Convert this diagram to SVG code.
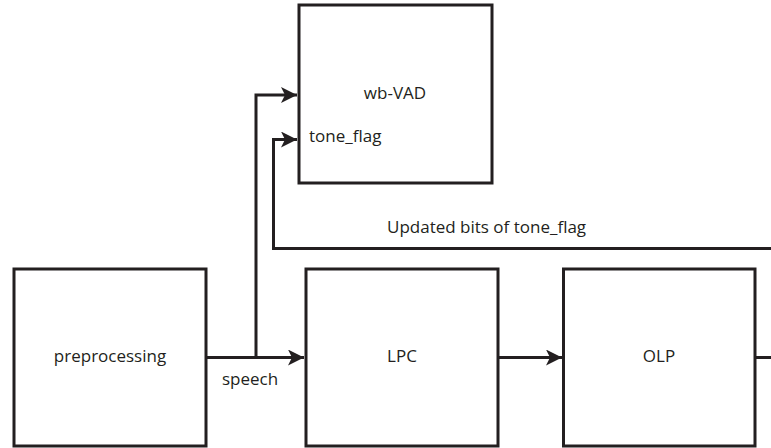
<svg xmlns="http://www.w3.org/2000/svg" width="771" height="448" viewBox="0 0 771 448">
<defs>
<style>
.box{fill:#fff;stroke:#231f20;stroke-width:3}
.ln{fill:none;stroke:#231f20;stroke-width:3}
text{font-family:"Open Sans","Liberation Sans",sans-serif;font-size:17px;fill:#231f20}
.c{text-anchor:middle}
</style>
<marker id="ah" markerUnits="userSpaceOnUse" markerWidth="18" markerHeight="16" refX="16" refY="8" orient="auto">
<path d="M0,0 L16,8 L0,16 L4,8 Z" fill="#231f20"/>
</marker>
</defs>
<rect width="771" height="448" fill="#fff"/>
<g id="connectors">
<path class="ln" d="M206,357.5 H304" marker-end="url(#ah)"/>
<path class="ln" d="M256,357.5 V95 H297" marker-end="url(#ah)"/>
<path class="ln" d="M771,248.5 H273.5 V139.5 H297" marker-end="url(#ah)"/>
<path class="ln" d="M498,357.5 H562" marker-end="url(#ah)"/>
<path class="ln" d="M755,357.5 H771"/>
</g>
<g id="wb-VAD">
<rect class="box" x="299" y="5" width="193" height="178"/>
<text class="c" x="395" y="99">wb-VAD</text>
<text x="309" y="142">tone_flag</text>
</g>
<g id="preprocessing">
<rect class="box" x="14" y="269" width="192" height="177"/>
<text class="c" x="110" y="362">preprocessing</text>
</g>
<g id="LPC">
<rect class="box" x="306" y="269" width="192" height="177"/>
<text class="c" x="402" y="362">LPC</text>
</g>
<g id="OLP">
<rect class="box" x="563.5" y="269" width="191.5" height="177"/>
<text class="c" x="659" y="362">OLP</text>
</g>
<text class="c" x="250" y="385">speech</text>
<text x="387" y="233">Updated bits of tone_flag</text>
</svg>
